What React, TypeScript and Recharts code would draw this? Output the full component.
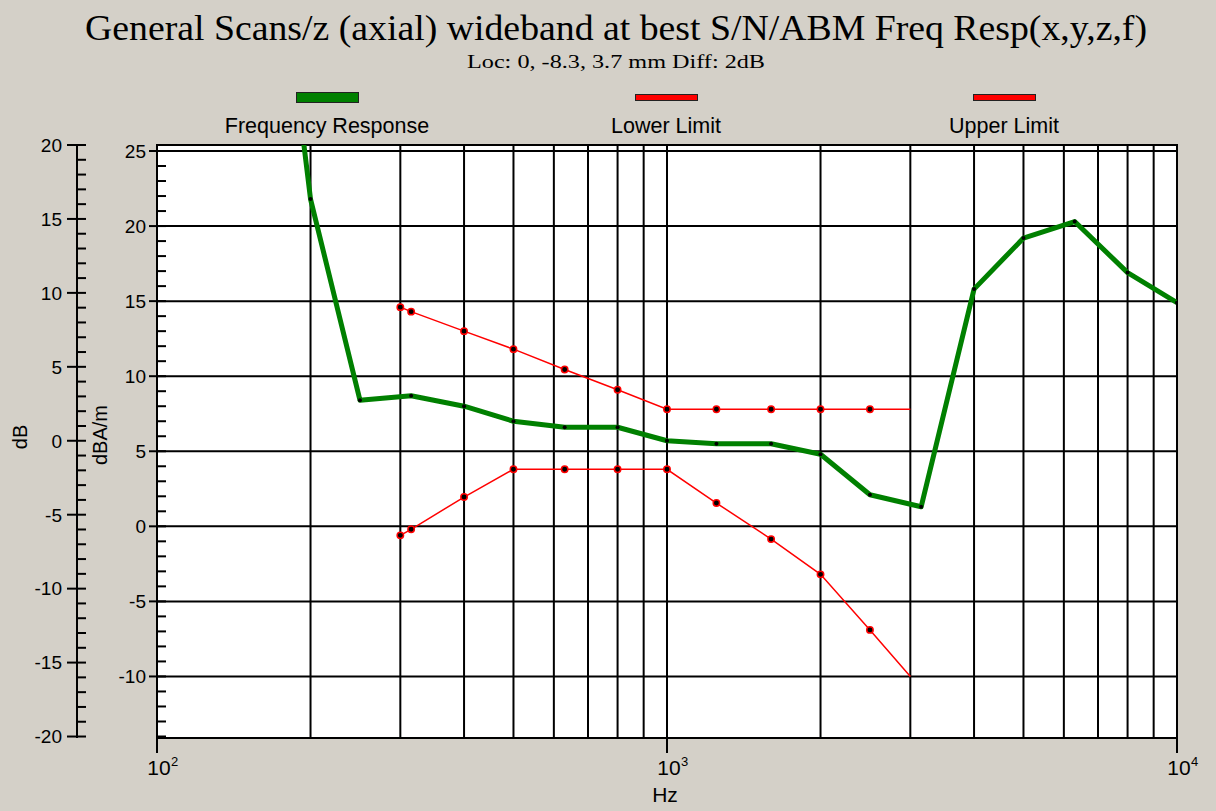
import { LineChart, Line, XAxis, YAxis, ReferenceLine, ReferenceArea, Legend } from 'recharts';

// Frequency response (green)
const respHz = [190, 200, 250, 315, 400, 500, 630, 800, 1000, 1250, 1600, 2000, 2500, 3150, 4000, 5000, 6300, 8000, 10000];
const respDb = [28, 21.8, 8.4, 8.7, 8.0, 7.0, 6.6, 6.6, 5.7, 5.5, 5.5, 4.8, 2.1, 1.3, 15.8, 19.2, 20.3, 16.9, 14.9];

// Limit curves (red)
const limitHz = [300, 315, 400, 500, 630, 800, 1000, 1250, 1600, 2000, 2500, 3000];
const lowerDb = [-0.6, -0.2, 1.95, 3.8, 3.8, 3.8, 3.8, 1.55, -0.85, -3.2, -6.9, -10];
const upperDb = [14.6, 14.3, 13.0, 11.8, 10.45, 9.1, 7.8, 7.8, 7.8, 7.8, 7.8, 7.8];

// Axes
const gridHz = [100, 200, 300, 400, 500, 600, 700, 800, 900, 1000, 2000, 3000, 4000, 5000, 6000, 7000, 8000, 9000, 10000];
const decadeHz = [100, 1000, 10000];
const decadeExp = ['2', '3', '4'];
const gridDba = [25, 20, 15, 10, 5, 0, -5, -10];
const dbaTicks = Array.from({ length: 40 }, (_, i) => 25 - i); // 25 .. -14
const dbTicks = Array.from({ length: 41 }, (_, i) => 20 - i); // 20 .. -20

const toRows = (hz: number[], db: number[]) => hz.map((f, i) => ({ hz: f, db: db[i] }));
const respData = toRows(respHz, respDb);
const lowerData = toRows(limitHz, lowerDb);
const upperData = toRows(limitHz, upperDb);

const SANS = '"Liberation Sans", Arial, sans-serif';
const SERIF = '"Liberation Serif", "Times New Roman", serif';
const BG = '#d4d0c8';

function makeYTick(gap: number, major: number) {
  return (props: any) => {
    const { x, y, payload } = props;
    const isMajor = payload.value % 5 === 0;
    return (
      <g>
        <line x1={isMajor ? x - major : x} x2={x + 9} y1={y} y2={y} stroke="#000" strokeWidth={2} />
        {isMajor && (
          <text x={x - gap} y={y} dy="0.36em" textAnchor="end" fontFamily={SANS} fontSize={19} fill="#000">
            {payload.value}
          </text>
        )}
      </g>
    );
  };
}

function XTick(props: any) {
  const { x, y, payload } = props;
  const idx = decadeHz.indexOf(payload.value);
  if (idx < 0) return <g />;
  return (
    <g>
      <line x1={x} x2={x} y1={y} y2={y + 15} stroke="#000" strokeWidth={2} />
      <text x={x + 2} y={y + 37} textAnchor="middle" fontFamily={SANS} fontSize={21} fill="#000">
        10
      </text>
      <text x={x + 14} y={y + 28} textAnchor="start" fontFamily={SANS} fontSize={13} fill="#000">
        {decadeExp[idx]}
      </text>
    </g>
  );
}

const legendCenters = [327, 666, 1004];

function LegendContent({ payload }: any) {
  return (
    <div style={{ position: 'relative', width: 1216, height: 50 }}>
      {(payload || []).map((entry: any, i: number) => (
        <div
          key={entry.value}
          style={{ position: 'absolute', left: legendCenters[i] - 120, width: 240, top: 0, textAlign: 'center' }}
        >
          <div
            style={{
              margin: '0 auto',
              marginTop: i === 0 ? 0 : 2,
              width: 61,
              height: i === 0 ? 9 : 5,
              background: entry.color,
              border: '1px solid #222',
            }}
          />
          <div
            style={{
              position: 'absolute',
              top: 22,
              left: 0,
              width: 240,
              fontFamily: SANS,
              fontSize: 21.5,
              lineHeight: 'normal',
              color: '#000',
            }}
          >
            {entry.value}
          </div>
        </div>
      ))}
    </div>
  );
}

const limitDot = (last: number) => (props: any) => {
  const { cx, cy, index } = props;
  if (index === last) return <g key={`d-${index}`} />;
  return <circle key={`d-${index}`} cx={cx} cy={cy} r={3.2} fill="#000" stroke="#f00" strokeWidth={1.5} />;
};

export default function App() {
  return (
    <div style={{ position: 'absolute', left: 0, top: 0, width: 1216, height: 811, background: BG, overflow: 'hidden' }}>
      <LineChart width={1216} height={811} margin={{ top: 145, right: 39, bottom: 0, left: 0 }}>
        <XAxis
          dataKey="hz"
          type="number"
          scale="log"
          domain={[100, 10000]}
          ticks={gridHz}
          allowDataOverflow
          height={73}
          axisLine={{ stroke: '#000', strokeWidth: 2 }}
          tickLine={false}
          tickSize={0}
          tickMargin={0}
          tick={<XTick />}
          interval={0}
        />
        {/* outer dB axis (left) and inner dBA/m axis next to the plot */}
        <YAxis
          yAxisId="outer"
          type="number"
          domain={[-20.1, 20]}
          ticks={dbTicks}
          allowDataOverflow
          width={77}
          axisLine={{ stroke: '#000', strokeWidth: 2 }}
          tickLine={false}
          tickSize={0}
          tickMargin={0}
          tick={makeYTick(15, 10)}
          interval={0}
        />
        <YAxis
          yAxisId="inner"
          type="number"
          domain={[-14.1, 25.4]}
          ticks={dbaTicks}
          allowDataOverflow
          width={80}
          axisLine={{ stroke: '#000', strokeWidth: 2 }}
          tickLine={false}
          tickSize={0}
          tickMargin={0}
          tick={makeYTick(11, 8)}
          interval={0}
        />
        <ReferenceArea
          yAxisId="inner"
          x1={100}
          x2={10000}
          y1={-14.1}
          y2={25.4}
          fill="#fff"
          fillOpacity={1}
          stroke="#000"
          strokeWidth={2}
        />
        {gridHz.map((f) => (
          <ReferenceLine key={`vx-${f}`} yAxisId="inner" x={f} stroke="#000" strokeWidth={2} />
        ))}
        {gridDba.map((v) => (
          <ReferenceLine key={`hy-${v}`} yAxisId="inner" y={v} stroke="#000" strokeWidth={2} />
        ))}
        <Legend
          layout="horizontal"
          verticalAlign="middle"
          align="center"
          wrapperStyle={{ top: 92, left: 0, width: 1216 }}
          content={<LegendContent />}
        />
        <Line
          yAxisId="inner"
          data={upperData}
          dataKey="db"
          name="Upper Limit"
          stroke="#ff0000"
          strokeWidth={1.5}
          dot={limitDot(upperData.length - 1)}
          isAnimationActive={false}
        />
        <Line
          yAxisId="inner"
          data={lowerData}
          dataKey="db"
          name="Lower Limit"
          stroke="#ff0000"
          strokeWidth={1.5}
          dot={limitDot(lowerData.length - 1)}
          isAnimationActive={false}
        />
        <Line
          yAxisId="inner"
          data={respData}
          dataKey="db"
          name="Frequency Response"
          stroke="#008000"
          strokeWidth={5}
          strokeLinejoin="round"
          dot={{ r: 2, fill: '#000', stroke: 'none' }}
          isAnimationActive={false}
        />
      </LineChart>
      <svg
        width={1216}
        height={811}
        style={{ position: 'absolute', left: 0, top: 0, pointerEvents: 'none' }}
      >
        <text x={616} y={40} textAnchor="middle" fontFamily={SERIF} fontSize={35} textLength={1062} lengthAdjust="spacingAndGlyphs" fill="#000">
          General Scans/z (axial) wideband at best S/N/ABM Freq Resp(x,y,z,f)
        </text>
        <text x={616} y={68} textAnchor="middle" fontFamily={SERIF} fontSize={19} textLength={298} lengthAdjust="spacingAndGlyphs" fill="#000">
          Loc: 0, -8.3, 3.7 mm Diff: 2dB
        </text>
        <text transform="translate(27,437) rotate(-90)" textAnchor="middle" fontFamily={SANS} fontSize={20} fill="#000">
          dB
        </text>
        <text transform="translate(107,435) rotate(-90)" textAnchor="middle" fontFamily={SANS} fontSize={20} fill="#000">
          dBA/m
        </text>
        <text x={665} y={802} textAnchor="middle" fontFamily={SANS} fontSize={21} fill="#000">
          Hz
        </text>
      </svg>
    </div>
  );
}
